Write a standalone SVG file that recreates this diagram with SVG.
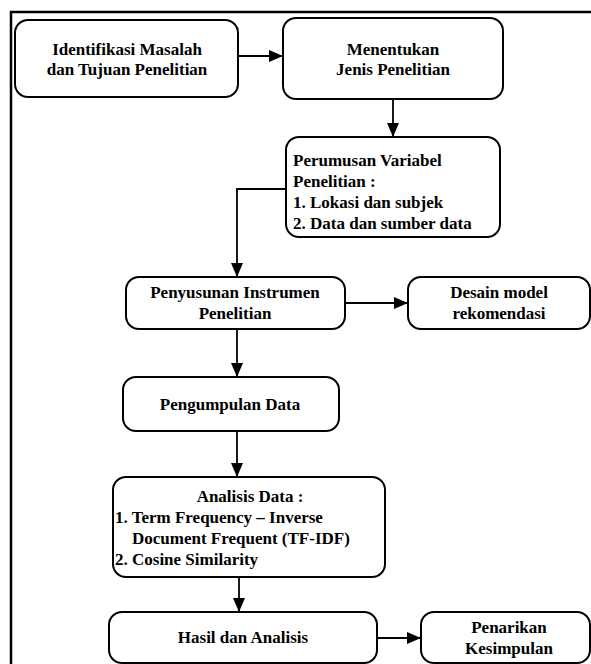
<svg xmlns="http://www.w3.org/2000/svg" width="591" height="664" viewBox="0 0 591 664">
<defs>
<marker id="ah" markerWidth="14" markerHeight="12" refX="14" refY="6" orient="auto" markerUnits="userSpaceOnUse">
<path d="M0,0 L14,6 L0,12 Z" fill="#000"/>
</marker>
<style>
.box{fill:#fff;stroke:#000;stroke-width:2}
.t{font-family:'Liberation Serif','DejaVu Serif',serif;font-weight:700;font-size:17px;fill:#000}
.c{text-anchor:middle}
.ln{fill:none;stroke:#000;stroke-width:1.8;marker-end:url(#ah)}
</style>
</defs>
<rect width="591" height="664" fill="#fff"/>
<rect x="11" y="12" width="640" height="700" fill="none" stroke="#000" stroke-width="2.5"/>
<g id="connectors">
<path class="ln" d="M238,56 H283"/>
<path class="ln" d="M393,99 V137"/>
<path class="ln" d="M286,189 H237 V277"/>
<path class="ln" d="M345,303 H408"/>
<path class="ln" d="M237,329 V377"/>
<path class="ln" d="M237,431 V477"/>
<path class="ln" d="M239,577 V612"/>
<path class="ln" d="M377,638 H421"/>
</g>
<g id="n1" font-family="Liberation Serif, serif">
<rect class="box" x="15" y="20" width="223" height="77" rx="13"/>
<text class="t c" x="127" y="55">Identifikasi Masalah</text>
<text class="t c" x="127" y="75">dan Tujuan Penelitian</text>
</g>
<g id="n2">
<rect class="box" x="283" y="18" width="220" height="81" rx="13"/>
<text class="t c" x="393" y="55">Menentukan</text>
<text class="t c" x="393" y="75">Jenis Penelitian</text>
</g>
<g id="n3">
<rect class="box" x="286" y="137" width="214" height="100" rx="13"/>
<text class="t" x="293" y="166">Perumusan Variabel</text>
<text class="t" x="293" y="187">Penelitian :</text>
<text class="t" x="293" y="208">1. Lokasi dan subjek</text>
<text class="t" x="293" y="229">2. Data dan sumber data</text>
</g>
<g id="n4">
<rect class="box" x="126" y="277" width="219" height="52" rx="13"/>
<text class="t c" x="235" y="298">Penyusunan Instrumen</text>
<text class="t c" x="235" y="319">Penelitian</text>
</g>
<g id="n5">
<rect class="box" x="408" y="277" width="182" height="52" rx="13"/>
<text class="t c" x="499" y="298">Desain model</text>
<text class="t c" x="499" y="319">rekomendasi</text>
</g>
<g id="n6">
<rect class="box" x="123" y="377" width="216" height="54" rx="13"/>
<text class="t c" x="230" y="410">Pengumpulan Data</text>
</g>
<g id="n7">
<rect class="box" x="113" y="477" width="272" height="100" rx="13"/>
<text class="t c" x="250" y="502">Analisis Data :</text>
<text class="t" x="115" y="523">1. Term Frequency – Inverse</text>
<text class="t" x="132" y="544">Document Frequent (TF-IDF)</text>
<text class="t" x="115" y="565">2. Cosine Similarity</text>
</g>
<g id="n8">
<rect class="box" x="109" y="612" width="268" height="51" rx="13"/>
<text class="t c" x="243" y="643">Hasil dan Analisis</text>
</g>
<g id="n9">
<rect class="box" x="421" y="612" width="169" height="51" rx="13"/>
<text class="t c" x="509" y="633">Penarikan</text>
<text class="t c" x="509" y="654">Kesimpulan</text>
</g>
</svg>
